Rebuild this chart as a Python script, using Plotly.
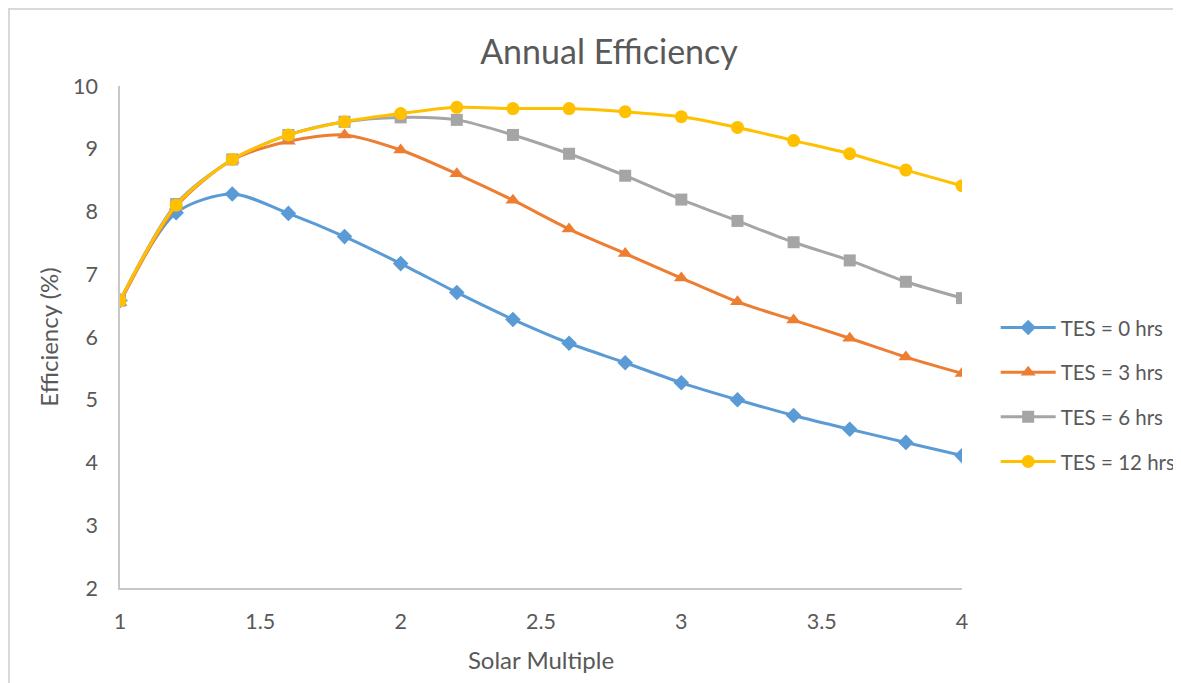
import plotly.graph_objects as go

solar_multiple = [1.0, 1.2, 1.4, 1.6, 1.8, 2.0, 2.2, 2.4, 2.6, 2.8, 3.0, 3.2, 3.4, 3.6, 3.8, 4.0]
tes_0 = [6.58, 7.98, 8.28, 7.97, 7.60, 7.17, 6.71, 6.28, 5.90, 5.59, 5.27, 5.00, 4.75, 4.53, 4.32, 4.11]
tes_3 = [6.55, 8.08, 8.82, 9.12, 9.22, 8.98, 8.60, 8.18, 7.72, 7.33, 6.94, 6.56, 6.27, 5.98, 5.68, 5.42]
tes_6 = [6.58, 8.12, 8.83, 9.22, 9.43, 9.50, 9.46, 9.22, 8.92, 8.57, 8.19, 7.85, 7.51, 7.22, 6.88, 6.62]
tes_12 = [6.58, 8.10, 8.83, 9.22, 9.43, 9.56, 9.66, 9.64, 9.64, 9.59, 9.51, 9.34, 9.13, 8.92, 8.66, 8.41]

series_names = ["TES = 0 hrs", "TES = 3 hrs", "TES = 6 hrs", "TES = 12 hrs"]
series_values = [tes_0, tes_3, tes_6, tes_12]
colors = ["#5B9BD5", "#ED7D31", "#A5A5A5", "#FFC000"]
symbols = ["diamond", "triangle-up", "square", "circle"]
sizes = [12, 13, 12, 13]

FONT = "Lato"
TXT = "#595959"

# page is offset by the 8px body margin, so the figure is sized to the visible area
W, H = 1173, 675
L, R, T, B = 112, 219, 78, 95
PW, PH = W - L - R, H - T - B

fig = go.Figure()
for i, (name, vals) in enumerate(zip(series_names, series_values)):
    fig.add_trace(go.Scatter(
        x=solar_multiple, y=vals, name=name, mode="lines+markers",
        line=dict(color=colors[i], width=3, shape="spline", smoothing=0.8),
        marker=dict(symbol=symbols[i], size=sizes[i], color=colors[i]),
        legendgroup=f"g{i}",
    ))

fig.update_layout(
    width=W, height=H,
    margin=dict(l=L, r=R, t=T, b=B, autoexpand=False),
    paper_bgcolor="white", plot_bgcolor="white",
    font=dict(family=FONT, color=TXT, size=21),
    title=dict(text="Annual Efficiency", x=(609 - 8) / W, xref="container", y=1 - 44 / H, yref="container",
               yanchor="middle", xanchor="center",
               font=dict(family=FONT, size=34, color=TXT)),
    showlegend=True,
    legend=dict(x=1.04, xanchor="left", y=0.385, yanchor="middle",
                font=dict(family=FONT, size=20.5, color=TXT),
                tracegroupgap=15, itemwidth=55, bgcolor="rgba(0,0,0,0)"),
    xaxis=dict(range=[1, 4], dtick=0.5, tick0=1, showgrid=False, zeroline=False,
               showline=True, linecolor="#C8C8C8", linewidth=1.5,
               ticks="", ticklabelstandoff=13,
               tickfont=dict(family=FONT, size=21.5, color=TXT),
               title=dict(text="Solar Multiple", font=dict(family=FONT, size=24, color=TXT), standoff=20)),
    yaxis=dict(range=[2, 10], dtick=1, showgrid=False, zeroline=False,
               showline=True, linecolor="#C8C8C8", linewidth=1.5,
               ticks="", ticklabelstandoff=16,
               tickfont=dict(family=FONT, size=21.5, color=TXT),
               title=dict(text="Efficiency (%)", font=dict(family=FONT, size=24, color=TXT), standoff=8)),
)

fig.add_shape(type="rect", xref="paper", yref="paper",
              x0=(1 - L) / PW, x1=(1172 - L) / PW,
              y0=(PH + T - (H + 20)) / PH, y1=(PH + T - 1) / PH,
              line=dict(color="#D9D9D9", width=2), fillcolor="rgba(0,0,0,0)", layer="below")

fig.write_html("out.html")
